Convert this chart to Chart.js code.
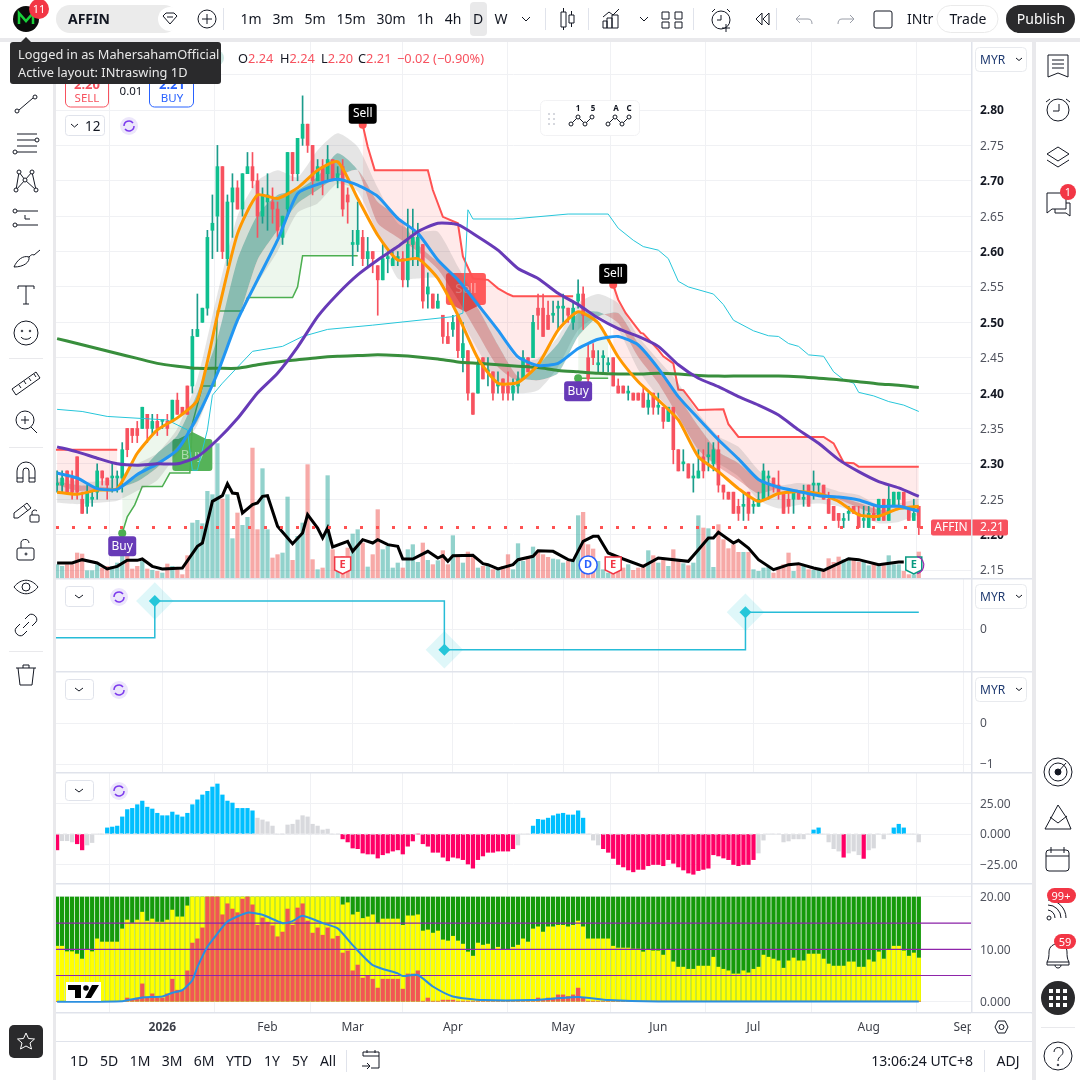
<!DOCTYPE html>
<html lang="en">
<head>
<meta charset="UTF-8">
<title>AFFIN 1D</title>
<script src="https://cdn.jsdelivr.net/npm/chart.js"></script>
<style>
  html, body { margin: 0; padding: 0; background: #e9e9ec; width: 1080px; height: 1080px; overflow: hidden; }
  canvas { position: absolute; left: 56px; }
  .white { position: absolute; background: #fff; }
  #chrome { position: absolute; left: 0; top: 0; z-index: 5; }
  #chrome text { font-family: "Noto Sans", sans-serif; fill: #131722; }
  #chrome .ic { fill: none; stroke: #131722; stroke-width: 1; }
</style>
</head>
<body>
<div class="white" style="left:0;top:0;width:1080px;height:38px"></div>
<div class="white" style="left:0;top:42px;width:53px;height:1038px"></div>
<div class="white" style="left:56px;top:42px;width:976px;height:1038px"></div>
<div class="white" style="left:1036px;top:42px;width:44px;height:1038px"></div>

<canvas id="pricePane" width="976" height="536" style="top:42px"></canvas>
<canvas id="stepPane" width="976" height="92" style="top:579px"></canvas>
<canvas id="emptyPane" width="976" height="100" style="top:672px"></canvas>
<canvas id="histPane" width="976" height="110" style="top:773px"></canvas>
<canvas id="flowPane" width="976" height="158" style="top:884px"></canvas>

<svg id="chrome" width="1080" height="1080" viewBox="0 0 1080 1080">
  <!-- pane separators -->
  <g fill="#e0e3eb">
    <rect x="56" y="578" width="976" height="1.5"/><rect x="56" y="671" width="976" height="1.5"/>
    <rect x="56" y="772" width="976" height="1.5"/><rect x="56" y="883" width="976" height="1.5"/>
    <rect x="56" y="1012" width="976" height="1.5"/><rect x="56" y="1041" width="976" height="1"/>
    <rect x="971" y="42" width="1.5" height="970"/>
  </g>
  <!-- time axis corner -->
  <rect x="971" y="1013.5" width="60" height="27" fill="#fff"/>
  <path class="ic" d="M995 1027l3-6h7l3 6-3 6h-7z"/><circle class="ic" cx="1001.5" cy="1027" r="2.5"/>

  <!-- top bar -->
  <circle cx="26" cy="19" r="13" fill="#0b0b0b"/>
  <path d="M19 24V13l7 8 7-8v11" fill="none" stroke="#19d13a" stroke-width="2.5"/>
  <circle cx="39" cy="9" r="10" fill="#f23645"/><text x="39" y="13" font-size="11" text-anchor="middle" style="fill:#fff">11</text>
  <rect x="56" y="5" width="122" height="28" rx="14" fill="#ebebeb"/>
  <text x="68" y="24" font-size="14" font-weight="700">AFFIN</text>
  <circle cx="170" cy="19" r="12" fill="#fff"/><path class="ic" stroke-width="1.4" d="M163 16l3-3h8l3 3-7 8zM167 17h6"/>
  <circle class="ic" cx="207" cy="19" r="9"/><path class="ic" d="M207 14v10M202 19h10"/>
  <rect x="223" y="8" width="1" height="22" fill="#e0e3eb"/>
  <rect x="470" y="2" width="17" height="34" rx="4" fill="#e9e9ea"/>
  <g font-size="14" text-anchor="middle">
    <text x="251" y="24">1m</text><text x="283" y="24">3m</text><text x="315" y="24">5m</text>
    <text x="351" y="24">15m</text><text x="391" y="24">30m</text><text x="425" y="24">1h</text>
    <text x="453" y="24">4h</text><text x="478" y="24">D</text><text x="501" y="24">W</text>
  </g>
  <path class="ic" d="M522 17l4 4 4-4M640 17l4 4 4-4"/>
  <rect x="545" y="8" width="1" height="22" fill="#e0e3eb"/><rect x="588" y="8" width="1" height="22" fill="#e0e3eb"/>
  <rect x="693" y="8" width="1" height="22" fill="#e0e3eb"/><rect x="776" y="8" width="1" height="22" fill="#e0e3eb"/>
  <path class="ic" d="M561 12h5v15h-5zM563.500 8v4M563.500 27v3M569 15h5v8h-5zM571.500 11v4M571.500 23v4"/>
  <path class="ic" d="M603 28v-7h4v7zM607 28v-10h5v10zM612 28v-13h6v13zM603 17l6-5 4 3 6-6"/>
  <path class="ic" d="M663 12h7v7h-7zM663 22h7v6h-7zM676 12h7v7h-7zM676 22h7v6h-7z" transform="translate(-1 0)"/>
  <circle class="ic" cx="721" cy="20" r="9"/><path class="ic" d="M721 15v5h-4M712 12l3-3M727 9l3 3M722 28h8M726 24v8"/>
  <path class="ic" d="M762 13l-6 6 6 6zM769 13l-6 6 6 6z"/>
  <path class="ic" style="stroke:#9a9ea8" d="M800 15l-4 4 4 4M796 19h12c3 0 4 2 4 5M850 15l4 4-4 4M854 19h-12c-3 0-4 2-4 5"/>
  <rect class="ic" x="874" y="11" width="18" height="17" rx="2"/>
  <text x="907" y="24" font-size="14">INtr</text>
  <rect x="937" y="5.500" width="61" height="27" rx="13.500" fill="#fff" stroke="#eaeaea"/>
  <text x="968" y="24" font-size="14" text-anchor="middle">Trade</text>
  <rect x="1006" y="5" width="69" height="28" rx="14" fill="#2a2a2c"/>
  <text x="1041" y="24" font-size="14" text-anchor="middle" style="fill:#fff">Publish</text>

  <!-- left toolbar -->
  <g class="ic">
    <g transform="translate(26,104)"><path d="M-7 6L7-6"/><circle cx="-9" cy="7" r="2"/><circle cx="9" cy="-7" r="2"/></g>
    <g transform="translate(26,143)"><path d="M-9-9H11M-9-3H9M-9 3H11M-9 9H-9M-9 9H11"/><circle cx="11" cy="-3" r="2"/><circle cx="-11" cy="9" r="2"/></g>
    <g transform="translate(26,181)"><path d="M-10 9L-7-9-1-1 6-9 10 9M-10 9L-1-1 10 9"/><circle cx="-10" cy="9" r="2" fill="#fff"/><circle cx="-7" cy="-9" r="2" fill="#fff"/><circle cx="-1" cy="-1" r="2" fill="#fff"/><circle cx="6" cy="-9" r="2" fill="#fff"/><circle cx="10" cy="9" r="2" fill="#fff"/></g>
    <g transform="translate(26,218)"><path d="M-9-7H12M-9 7H12M-1-3V1H4"/><circle cx="-11" cy="-7" r="2"/><circle cx="-11" cy="7" r="2"/></g>
    <g transform="translate(26,258)"><path d="M-12 9C-9 2-3-3 3-1 4 4-2 9-12 9ZM3-1C5-3 6-4 8-3M8-3L14-8"/></g>
    <g transform="translate(26,295)"><path d="M-8-6V-9H8V-6M0-9V9M-3 9H3"/></g>
    <g transform="translate(26,333)"><circle r="12"/><circle cx="-4" cy="-2" r=".8"/><circle cx="4" cy="-2" r=".8"/><path d="M-5 4C-3 7 3 7 5 4"/></g>
    <g transform="translate(26,383)"><path d="M-14 6L10-11 14-5-10 12Z M-7 2l2 3M-2-2l2 3M3-5l2 3M8-9l2 3"/></g>
    <g transform="translate(26,421)"><circle cx="-1" cy="-1" r="9"/><path d="M5 6L11 12M-5-1H3M-1-5V3"/></g>
    <g transform="translate(26,473)"><path d="M-9 9V-2A9 9 0 0 1 9-2V9H3V-2A3 3 0 0 0-3-2V9ZM-9 5H-3M3 5H9"/></g>
    <g transform="translate(26,512)"><path d="M-12 1L1-9 5-4-8 6H-12ZM-2-6L2-1"/><rect x="4" y="3" width="9" height="7" rx="1"/><path d="M6 3V0A3 3 0 0 1 11-1"/></g>
    <g transform="translate(26,550)"><rect x="-9" y="-2" width="17" height="12" rx="2"/><path d="M-5-2V-6A4 4 0 0 1 3-7"/><circle cy="4" r="1"/></g>
    <g transform="translate(26,587)"><path d="M-12 0C-5-9 5-9 12 0 5 9-5 9-12 0Z"/><circle r="4"/></g>
    <g transform="translate(26,625)"><path d="M-3 3L3-3M-1-6L3-10C7-13 13-7 10-3L6 1M1 6L-3 10C-7 13-13 7-10 3L-6-1"/></g>
    <g transform="translate(26,675)"><path d="M-10-7H10M-3-7V-10H3V-7M-8-7L-6 10H6L8-7"/></g>
  </g>
  <g fill="#e9e9ec"><rect x="9" y="358" width="34" height="1"/><rect x="9" y="447" width="34" height="1"/><rect x="9" y="651" width="34" height="1"/></g>
  <rect x="9" y="1025" width="34" height="33" rx="5" fill="#2a2a2c"/>
  <path d="M26 1033l2.500 5.500 6 .5-4.500 4 1.500 6-5.500-3-5.500 3 1.500-6-4.500-4 6-.5z" fill="none" stroke="#fff"/>

  <!-- right toolbar -->
  <g class="ic">
    <g transform="translate(1058,66)"><path d="M-10-11H10V11L0 7-10 11ZM-6-6H6M-6-2H6M-6 2H6"/></g>
    <g transform="translate(1058,110)"><circle r="11"/><path d="M1-6V1H-5M-12-8L-8-11M12-8L8-11"/></g>
    <g transform="translate(1058,157)"><path d="M-11-3L0-10 11-3 0 4ZM-11 3L0 10 11 3"/></g>
    <g transform="translate(1058,204)"><path d="M-11 9V-11H8V5H-6ZM-3 5V9H8L12 12V-1H8"/></g>
    <g transform="translate(1058,772)"><circle r="14"/><circle r="9"/><circle r="3" fill="#131722"/><path d="M0 0L8-9"/></g>
    <g transform="translate(1058,817)"><path d="M-13 12L0-12 8 0 13 12ZM-8 0L0 6 9-1"/></g>
    <g transform="translate(1058,860)"><rect x="-12" y="-10" width="23" height="21" rx="3"/><path d="M-12-4H11M-7-13V-7M6-13V-7"/></g>
    <g transform="translate(1058,910)"><circle cx="-9" cy="8" r="2"/><path d="M-10 0A8 8 0 0 1-3 8M-10-5A13 13 0 0 1 3 8M-10-10A18 18 0 0 1 8 8"/></g>
    <g transform="translate(1058,953)"><path d="M-11 9C-9 6-9 2-9-1-9-12 9-12 9-1 9 2 9 6 11 9ZM-11 9V12H11V9M-3 12C-3 16 3 16 3 12"/></g>
    <g transform="translate(1058,1056)"><circle r="14"/><path d="M-4-4C-4-10 5-10 5-4 5 0 0 0 0 5"/><circle cy="9" r=".8"/></g>
  </g>
  <circle cx="1068" cy="192" r="8" fill="#f23645"/><text x="1068" y="196" font-size="11" text-anchor="middle" style="fill:#fff">1</text>
  <rect x="1047" y="888" width="29" height="15" rx="7.500" fill="#f23645"/><text x="1061" y="900" font-size="11" text-anchor="middle" style="fill:#fff">99+</text>
  <rect x="1054" y="934" width="22" height="15" rx="7.500" fill="#f23645"/><text x="1065" y="946" font-size="11" text-anchor="middle" style="fill:#fff">59</text>
  <circle cx="1058" cy="998" r="17" fill="#2a2a2c"/>
  <g fill="#fff">
    <rect x="1049" y="989" width="4" height="4"/><rect x="1056" y="989" width="4" height="4"/><rect x="1063" y="989" width="4" height="4"/>
    <rect x="1049" y="996" width="4" height="4"/><rect x="1056" y="996" width="4" height="4"/><rect x="1063" y="996" width="4" height="4"/>
    <rect x="1049" y="1003" width="4" height="4"/><rect x="1056" y="1003" width="4" height="4"/><rect x="1063" y="1003" width="4" height="4"/>
  </g>
  <rect x="1041" y="1027" width="34" height="1" fill="#e9e9ec"/>

  <!-- legend and trade widget -->
  <circle cx="216" cy="58" r="8" fill="#cfe9e4"/><circle cx="216" cy="58" r="4.500" fill="#0b5f4f"/>
  <text y="63" font-size="12.800">
    <tspan x="238">O</tspan><tspan style="fill:#f7525f">2.24</tspan>
    <tspan x="280">H</tspan><tspan style="fill:#f7525f">2.24</tspan>
    <tspan x="321">L</tspan><tspan style="fill:#f7525f">2.20</tspan>
    <tspan x="358">C</tspan><tspan style="fill:#f7525f">2.21</tspan>
    <tspan x="397" style="fill:#f7525f">−0.02 (−0.90%)</tspan>
  </text>
  <rect x="65.500" y="70" width="43" height="37" rx="5" fill="#fff" stroke="#f7525f"/>
  <text x="87" y="89" font-size="13" font-weight="700" text-anchor="middle" style="fill:#f7525f">2.20</text>
  <text x="87" y="102" font-size="11.500" text-anchor="middle" style="fill:#f7525f">SELL</text>
  <text x="131" y="95" font-size="11.500" text-anchor="middle">0.01</text>
  <rect x="149.500" y="70" width="44" height="37" rx="5" fill="#fff" stroke="#2962ff"/>
  <text x="172" y="89" font-size="13" font-weight="700" text-anchor="middle" style="fill:#2962ff">2.21</text>
  <text x="172" y="102" font-size="11.500" text-anchor="middle" style="fill:#2962ff">BUY</text>
  <path d="M26 37l5 5H21z" fill="#2a2a2c"/>
  <rect x="10" y="42" width="211" height="42" rx="3" fill="#2a2a2c"/>
  <text x="18" y="59" font-size="12.800" style="fill:#e8e8e8">Logged in as MahersahamOfficial</text>
  <text x="18" y="77" font-size="12.800" style="fill:#e8e8e8">Active layout: INtraswing 1D</text>

  <!-- pane buttons -->
  <g>
    <rect x="65.500" y="115.500" width="39" height="20" rx="3" fill="#fff" stroke="#e0e3eb"/>
    <path class="ic" stroke-width="1.400" d="M71 124l3.500 3 3.500-3"/><text x="85" y="131" font-size="13.500">12</text>
    <rect x="65.500" y="586.500" width="28" height="20" rx="3" fill="#fff" stroke="#e0e3eb"/><path class="ic" stroke-width="1.400" d="M75 595l4 3 4-3"/>
    <rect x="65.500" y="679.500" width="28" height="20" rx="3" fill="#fff" stroke="#e0e3eb"/><path class="ic" stroke-width="1.400" d="M75 688l4 3 4-3"/>
    <rect x="65.500" y="780.500" width="28" height="20" rx="3" fill="#fff" stroke="#e0e3eb"/><path class="ic" stroke-width="1.400" d="M75 789l4 3 4-3"/>
    <g id="syncIcons">
      <circle cx="129" cy="126" r="9" fill="#ece6fb"/><path d="M124 126a5 5 0 0 1 9-3M134 126a5 5 0 0 1-9 3" fill="none" stroke="#7c3aed" stroke-width="1.500"/>
      <circle cx="119" cy="597" r="9" fill="#ece6fb"/><path d="M114 597a5 5 0 0 1 9-3M124 597a5 5 0 0 1-9 3" fill="none" stroke="#7c3aed" stroke-width="1.500"/>
      <circle cx="119" cy="690" r="9" fill="#ece6fb"/><path d="M114 690a5 5 0 0 1 9-3M124 690a5 5 0 0 1-9 3" fill="none" stroke="#7c3aed" stroke-width="1.500"/>
      <circle cx="119" cy="791" r="9" fill="#ece6fb"/><path d="M114 791a5 5 0 0 1 9-3M124 791a5 5 0 0 1-9 3" fill="none" stroke="#7c3aed" stroke-width="1.500"/>
    </g>
  </g>

  <!-- currency buttons -->
  <g font-size="12">
    <rect x="975.500" y="47.500" width="51" height="24" rx="4" fill="#fff" stroke="#e8eaee"/><text x="980" y="64" style="fill:#1f3a70">MYR</text><path class="ic" d="M1016 58l3 2.500 3-2.500"/>
    <rect x="975.500" y="584.500" width="51" height="24" rx="4" fill="#fff" stroke="#e8eaee"/><text x="980" y="601" style="fill:#1f3a70">MYR</text><path class="ic" d="M1016 595l3 2.500 3-2.500"/>
    <rect x="975.500" y="677.500" width="51" height="24" rx="4" fill="#fff" stroke="#e8eaee"/><text x="980" y="694" style="fill:#1f3a70">MYR</text><path class="ic" d="M1016 688l3 2.500 3-2.500"/>
  </g>

  <!-- elliott tools float -->
  <rect x="540.500" y="100.500" width="99" height="35" rx="5" fill="#fff" stroke="#f2f2f4"/>
  <g fill="#d6d8de"><rect x="548" y="113" width="2" height="2"/><rect x="553" y="113" width="2" height="2"/><rect x="548" y="118" width="2" height="2"/><rect x="553" y="118" width="2" height="2"/><rect x="548" y="123" width="2" height="2"/><rect x="553" y="123" width="2" height="2"/></g>
  <g class="ic"><path d="M571 124l7-7 7 7 7-7"/><path d="M608 124l7-7 7 7 7-7"/></g>
  <g fill="#fff" stroke="#131722"><circle cx="571" cy="124" r="2"/><circle cx="578" cy="117" r="2"/><circle cx="585" cy="124" r="2"/><circle cx="592" cy="117" r="2"/><circle cx="608" cy="124" r="2"/><circle cx="615" cy="117" r="2"/><circle cx="622" cy="124" r="2"/><circle cx="629" cy="117" r="2"/></g>
  <g font-size="8" font-weight="700" text-anchor="middle"><text x="578" y="111">1</text><text x="593" y="111">5</text><text x="616" y="111">A</text><text x="629" y="111">C</text></g>

  <!-- TradingView mark -->
  <rect x="66" y="982" width="35" height="19" fill="#fff"/>
  <path d="M68 985H81V998H75V990H68ZM92 985H99L91 998H85Z" fill="#000"/><circle cx="86" cy="988" r="2.800" fill="#000"/>

  <!-- bottom bar -->
  <g font-size="14" text-anchor="middle" style="fill:#1f2a44">
    <text x="79" y="1066">1D</text><text x="109" y="1066">5D</text><text x="140" y="1066">1M</text>
    <text x="172" y="1066">3M</text><text x="204" y="1066">6M</text><text x="239" y="1066">YTD</text>
    <text x="272" y="1066">1Y</text><text x="300" y="1066">5Y</text><text x="328" y="1066">All</text>
    <text x="973" y="1066" text-anchor="end">13:06:24 UTC+8</text><text x="1008" y="1066">ADJ</text>
  </g>
  <rect x="346" y="1050" width="1" height="22" fill="#e0e3eb"/><rect x="984" y="1050" width="1" height="22" fill="#e0e3eb"/>
  <path class="ic" d="M363 1056v-4h16v16h-8M363 1056h16M367 1050v3M375 1050v3M362 1066h8M367 1063l3 3-3 3"/>
</svg>

<script>
// candles, one per trading day
const opens = [2.27,2.27,2.29,2.28,2.31,2.25,2.24,2.25,2.26,2.29,
  2.28,2.28,2.28,2.28,2.35,2.35,2.35,2.35,2.37,2.35,
  2.36,2.36,2.36,2.36,2.39,2.38,2.41,2.41,2.48,2.50,
  2.52,2.63,2.65,2.72,2.59,2.67,2.69,2.66,2.71,2.72,
  2.70,2.65,2.67,2.67,2.66,2.62,2.66,2.74,2.71,2.76,
  2.78,2.75,2.70,2.72,2.71,2.73,2.70,2.72,2.68,2.61,
  2.61,2.62,2.59,2.60,2.58,2.56,2.59,2.58,2.59,2.59,
  2.56,2.61,2.59,2.61,2.54,2.54,2.52,2.51,2.48,2.49,
  2.51,2.45,2.46,2.40,2.40,2.45,2.43,2.43,2.41,2.42,
  2.41,2.40,2.41,2.42,2.45,2.45,2.52,2.52,2.51,2.51,
  2.52,2.52,2.52,2.50,2.53,2.54,2.45,2.46,2.44,2.45,
  2.44,2.45,2.41,2.41,2.40,2.40,2.40,2.40,2.38,2.40,
  2.38,2.38,2.36,2.38,2.32,2.30,2.30,2.28,2.28,2.31,
  2.31,2.30,2.32,2.27,2.26,2.26,2.24,2.24,2.26,2.24,
  2.24,2.25,2.28,2.28,2.27,2.26,2.25,2.25,2.26,2.25,
  2.27,2.27,2.27,2.27,2.25,2.24,2.23,2.22,2.23,2.24,
  2.23,2.22,2.21,2.23,2.22,2.25,2.22,2.24,2.25,2.26,
  2.24,2.22,2.24];
const highs = [2.29,2.29,2.29,2.29,2.31,2.26,2.27,2.26,2.30,2.29,
  2.28,2.30,2.29,2.33,2.35,2.35,2.36,2.38,2.37,2.37,
  2.37,2.36,2.37,2.39,2.40,2.38,2.41,2.49,2.54,2.52,
  2.63,2.68,2.75,2.72,2.68,2.71,2.70,2.71,2.74,2.74,
  2.71,2.69,2.71,2.69,2.67,2.65,2.74,2.74,2.76,2.82,
  2.78,2.75,2.73,2.73,2.75,2.73,2.72,2.73,2.69,2.63,
  2.67,2.63,2.62,2.60,2.58,2.61,2.60,2.60,2.60,2.60,
  2.66,2.66,2.64,2.61,2.57,2.54,2.54,2.51,2.50,2.51,
  2.51,2.50,2.46,2.40,2.45,2.45,2.45,2.43,2.43,2.42,
  2.43,2.42,2.43,2.46,2.45,2.51,2.54,2.54,2.53,2.53,
  2.53,2.54,2.52,2.53,2.56,2.55,2.47,2.47,2.46,2.46,
  2.45,2.45,2.42,2.41,2.41,2.40,2.40,2.41,2.40,2.40,
  2.40,2.38,2.38,2.38,2.32,2.32,2.30,2.30,2.32,2.32,
  2.33,2.33,2.34,2.27,2.26,2.26,2.25,2.26,2.26,2.25,
  2.26,2.30,2.29,2.28,2.29,2.26,2.26,2.26,2.26,2.27,
  2.27,2.29,2.27,2.27,2.26,2.24,2.23,2.23,2.24,2.24,
  2.24,2.24,2.24,2.24,2.25,2.25,2.27,2.26,2.26,2.26,
  2.24,2.25,2.24];
const lows = [2.26,2.26,2.26,2.25,2.25,2.23,2.23,2.24,2.25,2.27,
  2.25,2.26,2.26,2.26,2.31,2.33,2.33,2.35,2.33,2.34,
  2.34,2.35,2.34,2.36,2.37,2.37,2.37,2.40,2.48,2.50,
  2.51,2.59,2.60,2.59,2.58,2.62,2.66,2.65,2.71,2.69,
  2.62,2.64,2.63,2.64,2.62,2.61,2.65,2.70,2.70,2.75,
  2.74,2.68,2.70,2.68,2.70,2.70,2.69,2.65,2.64,2.58,
  2.60,2.58,2.58,2.57,2.51,2.56,2.57,2.58,2.58,2.55,
  2.55,2.58,2.58,2.52,2.52,2.52,2.52,2.47,2.47,2.48,
  2.45,2.43,2.39,2.37,2.40,2.42,2.41,2.39,2.40,2.39,
  2.39,2.39,2.40,2.42,2.43,2.45,2.49,2.48,2.49,2.50,
  2.49,2.50,2.50,2.49,2.52,2.49,2.40,2.44,2.43,2.43,
  2.43,2.41,2.40,2.40,2.39,2.39,2.39,2.38,2.37,2.37,
  2.37,2.35,2.36,2.30,2.29,2.29,2.28,2.26,2.28,2.28,
  2.29,2.29,2.26,2.25,2.25,2.23,2.22,2.22,2.22,2.23,
  2.24,2.25,2.25,2.26,2.25,2.23,2.23,2.23,2.25,2.24,
  2.24,2.25,2.26,2.25,2.23,2.22,2.21,2.21,2.22,2.23,
  2.21,2.21,2.21,2.22,2.22,2.22,2.22,2.24,2.24,2.24,
  2.22,2.22,2.20];
const closes = [2.27,2.28,2.26,2.26,2.26,2.23,2.26,2.25,2.29,2.28,
  2.27,2.28,2.28,2.32,2.32,2.34,2.34,2.38,2.35,2.36,
  2.35,2.36,2.35,2.39,2.37,2.37,2.37,2.48,2.49,2.52,
  2.62,2.64,2.72,2.60,2.67,2.69,2.66,2.71,2.72,2.70,
  2.65,2.68,2.68,2.66,2.63,2.65,2.74,2.71,2.76,2.78,
  2.75,2.70,2.72,2.70,2.73,2.70,2.71,2.66,2.67,2.61,
  2.63,2.59,2.60,2.59,2.56,2.59,2.59,2.59,2.59,2.56,
  2.61,2.62,2.62,2.53,2.55,2.52,2.53,2.48,2.47,2.50,
  2.46,2.47,2.40,2.37,2.44,2.42,2.43,2.40,2.41,2.40,
  2.40,2.41,2.42,2.45,2.43,2.50,2.51,2.48,2.49,2.51,
  2.52,2.52,2.51,2.52,2.54,2.51,2.42,2.45,2.44,2.45,
  2.44,2.41,2.40,2.40,2.40,2.39,2.39,2.38,2.39,2.38,
  2.38,2.36,2.38,2.32,2.29,2.30,2.28,2.28,2.29,2.29,
  2.31,2.32,2.27,2.26,2.25,2.23,2.23,2.24,2.23,2.24,
  2.25,2.29,2.28,2.27,2.26,2.23,2.24,2.26,2.25,2.25,
  2.24,2.27,2.27,2.25,2.23,2.22,2.22,2.22,2.23,2.23,
  2.21,2.22,2.23,2.22,2.25,2.22,2.25,2.26,2.26,2.24,
  2.22,2.23,2.21];
const volumes = [40,35,40,40,75,72,22,22,40,30,
  35,35,45,73,80,27,35,50,27,23,
  20,15,42,35,25,10,67,165,173,163,
  260,250,403,237,250,118,195,158,182,390,
  145,328,145,60,70,75,243,53,125,165,
  340,55,25,30,307,85,55,65,90,132,
  145,105,33,70,205,85,95,30,45,30,
  85,100,47,105,53,40,52,82,40,127,
  62,45,78,62,30,35,40,25,25,35,
  70,25,103,50,65,93,83,70,62,57,
  55,45,50,55,187,197,100,87,50,25,
  15,15,55,30,40,23,30,40,82,67,
  45,55,35,85,50,43,37,45,187,150,
  148,32,160,115,88,100,77,77,77,25,
  20,30,33,15,32,40,75,20,40,35,
  25,23,30,25,58,47,63,55,60,55,
  47,47,37,40,40,37,67,40,40,20,
  10,10,78];

// moving averages and ribbons, read every 4th bar
const lineIdx = [0,4,8,12,16,20,24,28,32,36,40,44,48,52,56,60,64,68,72,76,80,84,88,92,96,100,104,108,112,116,120,124,128,132,136,140,144,148,152,156,160,164,168,172];
const fastAvg = [2.26,2.257,2.263,2.265,2.315,2.348,2.365,2.39,2.51,2.625,2.68,2.675,2.69,2.715,2.727,2.675,2.623,2.588,2.59,2.562,2.51,2.449,2.414,2.415,2.44,2.489,2.515,2.499,2.451,2.416,2.39,2.362,2.31,2.289,2.265,2.247,2.258,2.261,2.258,2.247,2.228,2.226,2.237,2.24];
const midAvg = [2.287,2.28,2.265,2.264,2.285,2.30,2.32,2.367,2.428,2.503,2.56,2.616,2.682,2.695,2.702,2.694,2.678,2.647,2.626,2.588,2.56,2.525,2.489,2.451,2.439,2.442,2.463,2.476,2.48,2.468,2.435,2.395,2.364,2.334,2.307,2.278,2.267,2.261,2.255,2.253,2.249,2.24,2.24,2.233];
const slowAvg = [2.324,2.317,2.308,2.30,2.298,2.30,2.30,2.31,2.334,2.364,2.40,2.428,2.465,2.508,2.54,2.567,2.588,2.607,2.628,2.64,2.638,2.621,2.602,2.576,2.562,2.541,2.525,2.506,2.491,2.48,2.466,2.44,2.421,2.409,2.395,2.383,2.369,2.348,2.329,2.306,2.289,2.275,2.266,2.254];
const trendAvg = [2.477,2.47,2.463,2.456,2.449,2.442,2.438,2.435,2.435,2.435,2.44,2.444,2.447,2.45,2.452,2.453,2.454,2.453,2.451,2.448,2.444,2.442,2.44,2.438,2.436,2.432,2.43,2.428,2.427,2.427,2.428,2.427,2.425,2.424,2.424,2.424,2.424,2.423,2.421,2.419,2.416,2.413,2.411,2.408];
const cloudTop = [2.28,2.275,2.275,2.28,2.30,2.315,2.35,2.42,2.54,2.65,2.70,2.715,2.705,2.743,2.767,2.748,2.69,2.64,2.628,2.628,2.579,2.53,2.487,2.447,2.449,2.48,2.527,2.54,2.527,2.48,2.447,2.414,2.371,2.339,2.324,2.291,2.27,2.273,2.27,2.261,2.256,2.242,2.244,2.251];
const cloudBottom = [2.245,2.243,2.245,2.248,2.262,2.277,2.315,2.355,2.43,2.50,2.555,2.60,2.655,2.668,2.696,2.685,2.625,2.562,2.562,2.562,2.513,2.461,2.416,2.40,2.404,2.437,2.489,2.508,2.489,2.433,2.395,2.362,2.31,2.30,2.282,2.249,2.237,2.242,2.244,2.24,2.228,2.216,2.218,2.228];
const ribbonA = [2.27,2.262,2.263,2.266,2.285,2.315,2.34,2.40,2.477,2.588,2.652,2.68,2.687,2.706,2.739,2.715,2.64,2.62,2.60,2.575,2.532,2.484,2.437,2.418,2.44,2.47,2.513,2.515,2.499,2.451,2.414,2.367,2.32,2.296,2.277,2.258,2.265,2.262,2.258,2.25,2.238,2.228,2.238,2.239];
const ribbonB = [2.275,2.27,2.268,2.266,2.275,2.295,2.325,2.36,2.428,2.50,2.588,2.63,2.668,2.687,2.706,2.715,2.67,2.65,2.61,2.585,2.562,2.52,2.468,2.423,2.418,2.428,2.48,2.508,2.513,2.47,2.433,2.395,2.353,2.317,2.301,2.277,2.265,2.262,2.258,2.254,2.245,2.235,2.235,2.236];

// thin band line
const bandIdx = [0,5,10,22,26,27,28,30,31,33,39,45,49,54,63,79,81,82,83,91,102,110,112,115,117,120,122,124,126,131,133,135,139,142,144,146,148,150,153,155,157,159,160,163,166,169,172];
const bandVal = [2.377,2.374,2.367,2.362,2.348,2.291,2.291,2.348,2.397,2.414,2.459,2.466,2.48,2.49,2.496,2.508,2.513,2.659,2.646,2.646,2.653,2.653,2.633,2.616,2.607,2.602,2.59,2.558,2.55,2.54,2.525,2.503,2.488,2.481,2.48,2.47,2.466,2.454,2.452,2.43,2.419,2.414,2.401,2.396,2.388,2.383,2.374];

// stop lines of the buy and sell signals
const stopRedAIdx = [-0.22,12];
const stopRedAVal = [2.32,2.32];
const stopRedBIdx = [61,62,63.4,74,75,77,80,81,83,86,88,90,91,103];
const stopRedBVal = [2.779,2.748,2.715,2.715,2.687,2.649,2.64,2.593,2.562,2.56,2.548,2.54,2.537,2.537];
const stopRedCIdx = [111,112,113.5,115,116.5,117,120,121,123,124,125,128,133,134,136,153,155,157,159,160,172];
const stopRedCVal = [2.553,2.532,2.513,2.499,2.485,2.484,2.461,2.452,2.442,2.405,2.404,2.376,2.377,2.356,2.338,2.338,2.329,2.302,2.301,2.296,2.296];
const stopGreenAIdx = [13,14,15.5,17,21,22.5,26.5,27,29,31.5,32,37,38,47,48,49,60];
const stopGreenAVal = [2.202,2.225,2.242,2.268,2.268,2.287,2.287,2.357,2.41,2.41,2.516,2.516,2.535,2.535,2.55,2.594,2.594];
const stopGreenBIdx = [104,110];
const stopGreenBVal = [2.421,2.421];

// black volume average
const volAvgIdx = [0,3,5,8,10,12,14,16,17,19,21,25,28,29,31,33,34,35,36,37,39,40,41,42,44,47,49,50,52,53,54,55,58,59,61,63,64,66,68,69,71,74,76,77,78,79,83,85,86,88,91,92,95,96,99,102,103,105,107,108,110,113,117,120,126,128,130,131,132,135,136,138,140,143,145,146,148,151,153,158,160,164,168,169];
const volAvgVal = [45,45,55,45,27,35,53,53,57,35,27,30,95,105,230,247,283,255,253,195,220,225,245,247,155,103,135,190,150,120,150,93,110,80,115,105,115,100,95,57,57,80,60,67,50,67,68,43,40,27,40,55,65,82,80,55,52,110,125,125,75,57,35,60,50,85,120,120,137,105,113,90,55,25,35,40,43,30,23,58,55,40,48,48];

// signal markers on the price pane
const flagIdx = [61,111,13,104];
const flagPrice = [2.779,2.553,2.202,2.421];
const flagText = ['Sell','Sell','Buy','Buy'];
const bigFlagIdx = [27,81.6];
const bigFlagPrice = [2.3125,2.547];
const bigFlagText = ['Buy','Sell'];
const eventIdx = [57,106,111,171];
const eventText = ['E','D','E','E'];

// step indicator pane
const stepIdx = [-0.22,19.5,77.3,137.4,172];
const stepVal = [-0.22,0.7,-0.52,0.42,0.42];
const stepMarkIdx = [19.5,77.3,137.4];
const stepMarkVal = [0.7,-0.52,0.42];

// histogram pane
const histValues = [-13,-5.5,-5.5,-6.5,-8,-13,-9,-7,0,0,
  5,5.7,6.5,14,20,21,24,27,22,20.5,
  17,15,15,18,15.6,14,17,24,28,32,
  35,38.5,41,32,27,25.4,21,21,21,19,
  13,11.5,10,6.5,0,0,7.4,8,11.5,15,
  14,8,6.5,3.3,4,0,0,-4,-6.5,-11.5,
  -12,-15.6,-16.4,-16.4,-19.7,-17,-15.6,-14,-13,-16.4,
  -10,-5.7,0,-8,-10,-15,-15,-19,-22,-19,
  -19.7,-21,-24.6,-28,-21,-18,-15,-15,-14,-14,
  -14,-12,-9,0,0,6.5,12,11.5,13,15,
  16.4,17,15.6,15.6,19,13,0,-5,-9,-12,
  -15,-20,-25,-27,-29.5,-31,-29,-29,-26,-25,
  -25,-26,-21,-24,-27,-29.5,-32,-33,-30,-29,
  -28,-17,-18,-19.7,-21,-25,-26,-25,-25,-21,
  -15.6,-5,0,0,0,-6.5,-5.7,-4,-4,-4,
  0,3.3,5,0,-6.5,-12,-14,-19,-15.6,-14,
  -17,-20,-13,-11.5,0,-4,0,5,8,5,
  0,0,-6.5];
const histState = 'rgggrrgggg' + 'b'.repeat(30) + 'g'.repeat(17) + 'r'.repeat(35) + 'ggg' + 'b'.repeat(11) + 'ggg' +
  'r'.repeat(31) + 'g'.repeat(11) + 'bb' + 'gggg' + 'r' + 'ggg' + 'r' + 'ggggg' + 'bbb' + 'ggg';

// money flow pane
const flowTop = 20;
const flowYellow = [10.6,10.6,9.55,9.55,9.1,8.15,9.9,9.55,12,11.4,
  11.4,11.4,11.4,13.9,15.6,15,15.6,17.1,15.4,15.8,
  15.2,15.2,15.6,17.5,16.2,16.2,18.3,20,20,20,
  20,20,20,20,20,20,20,20,20,20,
  20,20,20,20,20,20,20,20,20,20,
  20,20,20,20,20,20,20,18.5,18.9,16.6,
  17.1,15.9,16.2,16.6,15,15.8,15.8,15.8,15.8,14.6,
  16.4,16.4,16.6,13.5,13.7,13.1,13.5,11.8,11.6,12.5,
  11.6,11,9.5,8.7,11.2,10.8,11,9.9,10.4,9.9,
  10,10.4,10.8,12,11.4,13.9,14.3,13.3,14.3,14.3,
  14.6,14.6,14.3,14.6,15.4,14.3,12,12,12,12,
  12,10.6,10.25,10.25,10.25,10.05,10.05,9.5,9.9,9.7,
  9.7,8.9,9.9,7.6,6.6,6.6,6.2,6.2,6.8,6.8,
  6.8,8.5,6.6,6.2,5.9,5.3,5.3,5.9,5.5,6.2,
  6.6,8.9,8.5,8.15,7.8,6.4,7.8,8.35,7.8,7.8,
  9.1,9.1,9.1,8.15,7.2,6.8,6.8,6.8,7.6,7.6,
  6.6,6.6,8,7.6,9.5,8.15,9.9,10.6,10.6,9.7,
  8.7,9.3,8.35];
const flowRed = [0,0,0,0,0,0,0,0,0,0,
  0,0,0,0,.7,.3,.7,3.4,.7,1.5,
  .7,.7,1.5,4.3,2.2,2.2,5.9,11.2,12,14.1,
  20,20,20,16.6,18.7,17.7,17,19.6,20,18.5,
  14.6,16,15.2,14.5,12.4,13.3,17.7,14.6,17.9,18.7,
  15.4,13.1,14.1,12.7,14.1,12,12.5,9.3,9.7,5.9,
  7,4.5,4.9,4.3,2.6,4.3,4.3,4.3,4.3,2.4,
  5.3,5.3,5.9,.1,.7,.1,.1,.3,.3,.3,
  .1,.1,.1,.1,.1,.1,.1,.1,.1,.1,
  .1,.1,.1,.3,.3,.3,.7,.3,.7,.7,
  1.3,1.3,1,1.3,2.6,.7,.1,.1,.1,.1,
  .1,.1,.1,.1,.1,.1,.1,.1,.1,.1,
  .1,.1,.1,.1,.1,.1,.1,.1,.1,.1,
  .1,.1,.1,.1,.1,.1,.1,.1,.1,.1,
  .1,.1,.1,.1,.1,.1,.1,.1,.1,.1,
  .1,.1,.1,.1,.1,.1,.1,.1,.1,.1,
  .1,.1,.1,.1,.1,.1,.1,.1,.1,.1,
  .1,.1,.1];
const flowSignalIdx = [0,13,17,21,23,25,27,28,30,32,34,38,41,45,47,49,53,56,59,63,68,69,72,75,79,85,95,104,110,120,172];
const flowSignalVal = [0,.1,.8,1,1.7,2.2,4.1,6.6,10.5,13,15.3,17,16.6,15,15.4,16.4,15,14,10.8,7,5.4,4.9,5.1,2.9,1,.3,.3,.9,.3,.05,.05];
const flowLevels = [5,10,15];

// axis ticks
const monthIdx = [21,42,59,79,101,120,139,162,181];
const monthLabels = ['2026','Feb','Mar','Apr','May','Jun','Jul','Aug','Sep'];
const priceTicks = [2.15,2.20,2.25,2.30,2.35,2.40,2.45,2.50,2.55,2.60,2.65,2.70,2.75,2.80,2.85];
const stepTicks = [0];
const emptyTicks = [-1,0];
const histTicks = [-25,0,25];
const flowTicks = [0,5,10,15,20];

const barIndex = opens.map((v, i) => i);
const xMin = -0.22, xMax = 182.42;
const gridColor = '#f0f1f4';
const columnWidth = 3.6;
const TEAL = '#0fbf8f', WICK_TEAL = '#1b9c8b', RED = '#f7525f';

Chart.defaults.font.family = '"Noto Sans", sans-serif';
Chart.defaults.font.size = 12;
Chart.defaults.animation = false;

const up = i => closes[i] >= opens[i];
const points = (xs, ys) => xs.map((x, i) => ({x: x, y: ys[i]}));
const isMajor = c => !!c.tick && Math.round(c.tick.value * 100) % 10 === 0;

function xAxis(showLabels) {
  return {
    type: 'linear', min: xMin, max: xMax, offset: false,
    afterBuildTicks: s => { s.ticks = monthIdx.map(v => ({value: v})); },
    afterFit: s => { s.height = showLabels ? 30 : 0; s.paddingLeft = 0; s.paddingRight = 0; },
    grid: {color: gridColor, drawTicks: false},
    border: {display: false},
    ticks: {
      display: showLabels, maxRotation: 0, autoSkip: false, padding: 8,
      color: '#3c3f48',
      font: c => ({weight: c.tick && c.tick.value === 21 ? 'bold' : 'normal', size: 12}),
      callback: v => monthLabels[monthIdx.indexOf(v)]
    }
  };
}

function yAxis(min, max, tickValues, label, tickExtra) {
  return {
    position: 'right', min: min, max: max,
    afterBuildTicks: s => { s.ticks = tickValues.map(v => ({value: v})); },
    // the labels may hang over the pane edge, keep the plot area full height
    afterFit: s => { s.width = 61; s.paddingTop = 0; s.paddingBottom = 0; },
    grid: {color: gridColor, drawTicks: false},
    border: {display: false},
    ticks: Object.assign({padding: 9, labelOffset: 1, color: '#50535e', autoSkip: false, callback: label}, tickExtra || {})
  };
}

function lineSet(data, color, width, order, extra) {
  return Object.assign({
    type: 'line', data: data, borderColor: color, borderWidth: width,
    pointRadius: 0, tension: 0.2, order: order, fill: false
  }, extra || {});
}

// buy/sell tags and earnings badges
const markerPlugin = {
  id: 'markers',
  beforeDatasetsDraw(chart) {
    const {ctx, scales} = chart;
    bigFlagIdx.forEach((idx, n) => {
      const x = scales.x.getPixelForValue(idx), y = scales.y.getPixelForValue(bigFlagPrice[n]);
      const isBuy = bigFlagText[n] === 'Buy';
      ctx.save();
      ctx.fillStyle = isBuy ? 'rgba(76,175,80,.95)' : 'rgba(255,82,82,.95)';
      ctx.beginPath();
      ctx.roundRect(x - 20, y - 16, 40, 32, 3);
      ctx.moveTo(x - 14, isBuy ? y - 16 : y + 16);
      ctx.lineTo(x, isBuy ? y - 23 : y + 23);
      ctx.lineTo(x + 14, isBuy ? y - 16 : y + 16);
      ctx.fill();
      ctx.fillStyle = 'rgba(255,255,255,.55)';
      ctx.font = '13px "Noto Sans"';
      ctx.textAlign = 'center';
      ctx.textBaseline = 'middle';
      ctx.fillText(bigFlagText[n], x, y);
      ctx.restore();
    });
  },
  afterDatasetsDraw(chart) {
    const {ctx, scales, chartArea} = chart;
    ctx.save();
    ctx.textAlign = 'center';
    ctx.textBaseline = 'middle';
    flagIdx.forEach((idx, n) => {
      const x = scales.x.getPixelForValue(idx), y = scales.y.getPixelForValue(flagPrice[n]);
      const isBuy = flagText[n] === 'Buy';
      const cy = isBuy ? y + 13 : y - 11;
      ctx.fillStyle = isBuy ? '#673ab7' : '#000';
      ctx.beginPath();
      ctx.roundRect(x - 14, cy - 10, 28, 20, 3);
      ctx.fill();
      ctx.fillStyle = '#fff';
      ctx.font = '12px "Noto Sans"';
      ctx.fillText(flagText[n], x, cy);
    });
    eventIdx.forEach((idx, n) => {
      const x = scales.x.getPixelForValue(idx), y = chartArea.bottom - 13;
      const isLast = n === eventIdx.length - 1;
      ctx.fillStyle = '#fff';
      if (eventText[n] === 'D') {
        ctx.strokeStyle = '#2962ff';
        ctx.lineWidth = 1.5;
        ctx.beginPath(); ctx.arc(x, y, 9, 0, Math.PI * 2); ctx.fill(); ctx.stroke();
        ctx.fillStyle = '#2962ff';
      } else {
        ctx.strokeStyle = isLast ? '#089981' : '#f23645';
        ctx.lineWidth = 1.5;
        ctx.beginPath();
        ctx.moveTo(x - 8, y - 8); ctx.lineTo(x + 8, y - 8); ctx.lineTo(x + 8, y + 5);
        ctx.lineTo(x, y + 9); ctx.lineTo(x - 8, y + 5); ctx.closePath();
        ctx.fill(); ctx.stroke();
        ctx.fillStyle = ctx.strokeStyle;
      }
      ctx.font = 'bold 11px "Noto Sans"';
      ctx.fillText(eventText[n], x, y);
      if (isLast) {
        ctx.strokeStyle = '#9c27b0';
        ctx.lineWidth = 1.2;
        ctx.beginPath(); ctx.arc(x + 1, y, 9, -1.3, 1.3); ctx.stroke();
      }
    });
    // last price tag
    const lastClose = closes[closes.length - 1];
    const ty = scales.y.getPixelForValue(lastClose);
    ctx.fillStyle = '#f7525f';
    ctx.beginPath(); ctx.roundRect(chartArea.right - 40, ty - 8, 77, 16, 2); ctx.fill();
    ctx.fillStyle = '#fff';
    ctx.font = '12px "Noto Sans"';
    ctx.fillText('AFFIN', chartArea.right - 20, ty);
    ctx.fillText(lastClose.toFixed(2), chartArea.right + 21, ty);
    ctx.fillStyle = 'rgba(255,255,255,.5)';
    ctx.fillRect(chartArea.right, ty - 8, 1, 16);
    ctx.restore();
  }
};

const baseOptions = (scales) => ({
  responsive: false, animation: false, events: [],
  layout: {padding: 0, autoPadding: false},
  plugins: {legend: {display: false}, tooltip: {enabled: false}},
  scales: scales
});

// price pane. dataset order: lower number is on top
const priceSets = [];
const addSet = s => { priceSets.push(s); return priceSets.length - 1; };

const fastRef = addSet(lineSet(points(lineIdx, fastAvg), '#ff9800', 3, 10));
addSet(lineSet(points(lineIdx, midAvg), '#2196f3', 3, 9));
addSet(lineSet(points(lineIdx, slowAvg), '#673ab7', 3, 8));
addSet(lineSet(points(lineIdx, trendAvg), '#388e3c', 3, 20));
addSet(lineSet(points(bandIdx, bandVal), '#26c6da', 1, 22, {tension: 0}));
addSet(lineSet(points(volAvgIdx, volAvgVal), '#000', 3, 12, {yAxisID: 'vol', tension: 0}));
addSet(lineSet(points([-0.22, 174], [closes[172], closes[172]]), '#ff5252', 3, 11, {borderDash: [3, 13], tension: 0}));

const stopFill = (color) => ({fill: {target: fastRef}, backgroundColor: color, tension: 0});
const firstDot = color => ({pointRadius: c => c.dataIndex === 0 ? 4 : 0, pointBackgroundColor: color, pointBorderWidth: 0});
addSet(lineSet(points(stopRedAIdx, stopRedAVal), '#ff5252', 2, 60, stopFill('rgba(255,82,82,.12)')));
addSet(lineSet(points(stopRedBIdx, stopRedBVal), '#ff5252', 2, 60, Object.assign(stopFill('rgba(255,82,82,.12)'), firstDot('#ff5252'))));
addSet(lineSet(points(stopRedCIdx, stopRedCVal), '#ff5252', 2, 60, Object.assign(stopFill('rgba(255,82,82,.12)'), firstDot('#ff5252'))));
addSet(lineSet(points(stopGreenAIdx, stopGreenAVal), '#4caf50', 1.5, 60, Object.assign(stopFill('rgba(76,175,80,.1)'), firstDot('#4caf50'))));
addSet(lineSet(points(stopGreenBIdx, stopGreenBVal), '#4caf50', 1.5, 60, Object.assign(stopFill('rgba(76,175,80,.1)'), firstDot('#4caf50'))));

const cloudLow = addSet(lineSet(points(lineIdx, cloudBottom), 'transparent', 0, 50));
addSet(lineSet(points(lineIdx, cloudTop), 'transparent', 0, 50, {fill: {target: cloudLow}, backgroundColor: 'rgba(110,110,110,.18)'}));
const ribbonLow = addSet(lineSet(points(lineIdx, ribbonB), 'transparent', 0, 45));
addSet(lineSet(points(lineIdx, ribbonA), 'transparent', 0, 45, {
  fill: {target: ribbonLow, above: 'rgba(0,128,110,.36)', below: 'rgba(183,28,28,.28)'}
}));

// candles sit under the averages
addSet({type: 'bar', data: barIndex.map(i => [lows[i], highs[i]]), barThickness: 1, grouped: false, order: 31,
  backgroundColor: barIndex.map(i => up(i) ? WICK_TEAL : RED)});
addSet({type: 'bar', data: barIndex.map(i => [opens[i], closes[i]]), barThickness: 3, grouped: false, order: 30, minBarLength: 2,
  backgroundColor: barIndex.map(i => up(i) ? TEAL : RED)});
addSet({type: 'bar', data: volumes, yAxisID: 'vol', barThickness: columnWidth, grouped: false, order: 70,
  backgroundColor: barIndex.map(i => up(i) ? 'rgba(38,166,154,.5)' : 'rgba(239,83,80,.5)')});

new Chart(document.getElementById('pricePane'), {
  type: 'bar',
  data: {labels: barIndex, datasets: priceSets},
  options: baseOptions({
    x: xAxis(false),
    y: yAxis(2.1387, 2.8961, priceTicks, v => Math.abs(v - 2.85) < .001 ? '' : v.toFixed(2), {
      color: c => isMajor(c) ? '#131722' : '#50535e',
      font: c => ({size: 12, weight: isMajor(c) ? 'bold' : 'normal'})
    }),
    vol: {display: false, min: 0, max: 1608}
  }),
  plugins: [markerPlugin]
});

// step pane
new Chart(document.getElementById('stepPane'), {
  type: 'line',
  data: {
    datasets: [
      {data: points(stepIdx, stepVal), stepped: true, borderColor: '#26bcd7', borderWidth: 1.5, pointRadius: 0, order: 2},
      {data: points(stepMarkIdx, stepMarkVal), showLine: false, pointStyle: 'rectRot', pointRadius: 6,
        pointBackgroundColor: '#26c6da', pointBorderColor: 'rgba(38,198,218,.15)', pointBorderWidth: 18, order: 1}
    ]
  },
  options: baseOptions({
    x: xAxis(false),
    y: yAxis(-1.05, 1.25, stepTicks, v => String(v))
  })
});

// empty pane keeps its axis only
new Chart(document.getElementById('emptyPane'), {
  type: 'line',
  data: {datasets: [{data: []}]},
  options: baseOptions({
    x: xAxis(false),
    y: yAxis(-1.195, 1.244, emptyTicks, v => v < 0 ? '−' + Math.abs(v) : String(v))
  })
});

// histogram pane
const histColors = {b: '#00bfff', r: '#ff0066', g: '#d8d9dd'};
new Chart(document.getElementById('histPane'), {
  type: 'bar',
  data: {
    labels: barIndex,
    datasets: [
      {data: histValues, barThickness: columnWidth, grouped: false, order: 2,
        backgroundColor: barIndex.map(i => histColors[histState[i]])},
      {type: 'line', data: points([xMin, 172], [0, 0]), borderColor: '#e6e7ea', borderWidth: 1,
        borderDash: [4, 3], pointRadius: 0, order: 1}
    ]
  },
  options: baseOptions({
    x: xAxis(false),
    y: yAxis(-40.16, 50, histTicks, v => v === 0 ? '0.000' : (v < 0 ? '−' : '') + Math.abs(v).toFixed(2))
  })
});

// money flow pane
new Chart(document.getElementById('flowPane'), {
  type: 'bar',
  data: {
    labels: barIndex,
    datasets: [
      {type: 'line', data: points(flowSignalIdx, flowSignalVal), borderColor: '#2b8fe0', borderWidth: 2, pointRadius: 0, tension: 0.2, order: 1},
    ].concat(flowLevels.map(level => ({
      type: 'line', data: points([xMin, xMax], [level, level]), borderColor: '#8e24aa', borderWidth: 1.2, pointRadius: 0, order: 2
    }))).concat([
      {data: flowRed, barThickness: columnWidth, grouped: false, order: 3, backgroundColor: '#f25555'},
      {data: flowYellow, barThickness: columnWidth, grouped: false, order: 4, backgroundColor: '#ffff00'},
      {data: barIndex.map(() => flowTop), barThickness: columnWidth, grouped: false, order: 5, backgroundColor: '#159a0a'}
    ])
  },
  options: baseOptions({
    x: xAxis(true),
    y: yAxis(-1.97, 22.48, flowTicks, v => v % 10 !== 0 ? '' : (v === 0 ? '0.000' : v.toFixed(2)))
  })
});
</script>
</body>
</html>
